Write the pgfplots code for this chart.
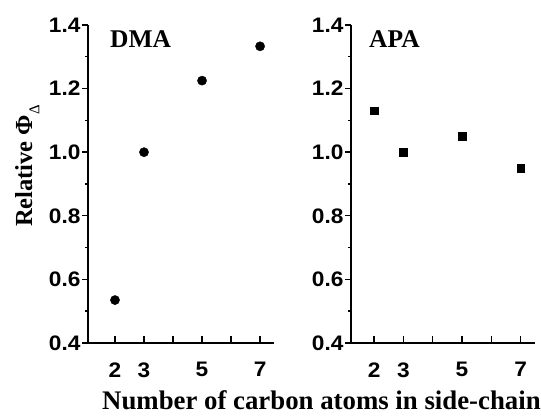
\documentclass[border=0pt]{standalone}
\usepackage{fontspec}
\setmainfont{Liberation Serif}
\setsansfont{Liberation Sans}[FakeStretch=1.08]
\usepackage{pgfplots}
\pgfplotsset{compat=1.18}
\pgfplotsset{
  panel/.style={
    scale only axis,
    anchor=south west,
    height=318pt,
    ymin=0.4, ymax=1.4,
    ytick={0.4,0.6,0.8,1.0,1.2,1.4},
    minor y tick num=1,
    xtick={2,3,4,5,6,7},
    xticklabels={2,3,,5,,7},
    axis lines*=left,
    axis line style={-, line width=2.5pt},
    tick align=outside,
    major tick length=6pt,
    minor tick length=3pt,
    tick style={line width=1.4pt, black},
    xtick style={yshift=6.5pt},
    /pgf/number format/.cd, fixed, fixed zerofill, precision=1, assume math mode=true,
    /pgfplots/.cd,
    ticklabel style={font=\sffamily\bfseries\fontsize{21}{21}\selectfont},
    xticklabel style={yshift=-10pt},
    yticklabel style={xshift=2pt},
    clip=false,
  }
}
\begin{document}
\begin{tikzpicture}
\useasboundingbox (0,0) rectangle (541pt,420pt);
\begin{axis}[panel, at={(88pt,77pt)}, width=186pt, xmin=1.07, xmax=7.48]
\addplot[only marks, mark=*, mark size=4.6pt, black] coordinates {
(2,0.535) (3,1.0) (5,1.225) (7,1.333)
};
\end{axis}
\begin{axis}[panel, at={(351pt,77pt)}, width=184pt, xmin=1.21, xmax=7.49]
\addplot[only marks, mark=square*, mark size=3.8pt, black] coordinates {
(2,1.13) (3,1.0) (5,1.05) (7,0.95)
};
\end{axis}
\node[anchor=base west, font=\bfseries\fontsize{25.5}{25.5}\selectfont, inner sep=0pt] at (110pt,372.7pt) {DMA};
\node[anchor=base west, font=\bfseries\fontsize{25.5}{25.5}\selectfont, inner sep=0pt] at (369pt,372.7pt) {APA};
\node[anchor=base west, font=\bfseries\fontsize{26.8}{26.8}\selectfont, inner sep=0pt] at (102pt,10pt) {Number of carbon atoms in side-chain};
\node[rotate=90, anchor=base, font=\bfseries\fontsize{24.5}{24.5}\selectfont, inner sep=0pt] at (32pt,254pt) {Relative Φ\raisebox{-0.3em}{\mdseries\fontsize{15}{15}\selectfont Δ}};
\end{tikzpicture}
\end{document}
